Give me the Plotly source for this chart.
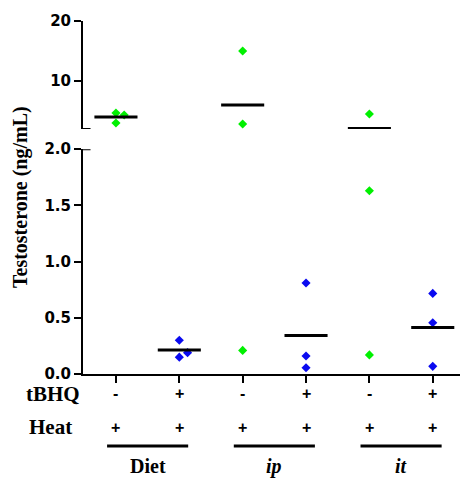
import plotly.graph_objects as go
import numpy as np

# ---- data ----
group_names = ["Diet", "ip", "it"]
tbhq_labels = ["-", "+", "-", "+", "-", "+"]
heat_labels = ["+", "+", "+", "+", "+", "+"]

diet_minus = [4.67, 4.33, 3.0]
diet_plus = [0.30, 0.19, 0.15]
ip_minus = [15.0, 2.83, 0.21]
ip_plus = [0.81, 0.16, 0.056]
it_minus = [4.5, 1.63, 0.17]
it_plus = [0.717, 0.456, 0.068]

series = [diet_minus, diet_plus, ip_minus, ip_plus, it_minus, it_plus]
jitter = [[0, 0.13, 0], [0, 0.13, 0], [0, 0, 0], [0, 0, 0], [0, 0, 0], [0, 0, 0]]
colors = ["#00F000", "#0A0AF0"] * 3

BREAK = 2.0
SERIF = "Liberation Serif"

fig = go.Figure()

for i, vals in enumerate(series):
    xs = [i + j for j in jitter[i]]
    lo_x = [x for x, v in zip(xs, vals) if v <= BREAK]
    lo_y = [v for v in vals if v <= BREAK]
    hi_x = [x for x, v in zip(xs, vals) if v > BREAK]
    hi_y = [v for v in vals if v > BREAK]
    mk = dict(symbol="diamond", size=7, color=colors[i], line=dict(width=0))
    if lo_y:
        fig.add_trace(go.Scatter(x=lo_x, y=lo_y, mode="markers", marker=mk,
                                 xaxis="x", yaxis="y", showlegend=False, cliponaxis=False))
    if hi_y:
        fig.add_trace(go.Scatter(x=hi_x, y=hi_y, mode="markers", marker=mk,
                                 xaxis="x", yaxis="y2", showlegend=False, cliponaxis=False))
    m = float(np.mean(vals))
    fig.add_trace(go.Scatter(x=[i - 0.34, i + 0.34], y=[m, m], mode="lines",
                             line=dict(color="black", width=3),
                             xaxis="x", yaxis="y2" if m > BREAK else "y",
                             showlegend=False, cliponaxis=False))

tickfont = dict(family="DejaVu Sans", size=15, color="black", weight="bold")
axcommon = dict(showline=True, linewidth=2, linecolor="black", ticks="outside",
                ticklen=7, tickwidth=2, tickcolor="black", showgrid=False,
                zeroline=False, tickfont=tickfont)

fig.update_layout(
    width=461, height=478,
    margin=dict(l=83, r=1, t=21, b=104),
    plot_bgcolor="white", paper_bgcolor="white",
    xaxis=dict(range=[-0.52, 5.43], tickvals=list(range(6)), showticklabels=False,
               anchor="y", **axcommon),
    yaxis=dict(domain=[0, 0.637], range=[0, 2], tickvals=[0, 0.5, 1, 1.5, 2],
               ticktext=["0.0", "0.5", "1.0", "1.5", "2.0"], anchor="x", **axcommon),
    yaxis2=dict(domain=[0.694, 1], range=[2, 20], tickvals=[10, 20],
                ticktext=["10", "20"], anchor="x", **axcommon),
)

# axis break caps
for yr in ["y", "y2"]:
    fig.add_shape(type="line", xref="paper", yref=yr, x0=-0.005, x1=0.02, y0=BREAK, y1=BREAK,
                  line=dict(color="black", width=2))

signfont = dict(family="Liberation Sans", size=16, color="black")
serif = dict(family=SERIF, size=21, color="black")

def ypx(p):
    return (374 - p) / 353.0

for i in range(6):
    fig.add_annotation(x=i, y=ypx(393), xref="x", yref="paper", text="<b>%s</b>" % tbhq_labels[i],
                       showarrow=False, font=signfont, xanchor="center", yanchor="middle")
    fig.add_annotation(x=i, y=ypx(427), xref="x", yref="paper", text="<b>%s</b>" % heat_labels[i],
                       showarrow=False, font=signfont, xanchor="center", yanchor="middle")

fig.add_annotation(x=(53 - 83) / 377.0, y=ypx(394), xref="paper", yref="paper", text="<b>tBHQ</b>",
                   showarrow=False, font=serif, xanchor="center", yanchor="middle")
fig.add_annotation(x=(50 - 83) / 377.0, y=ypx(427), xref="paper", yref="paper", text="<b>Heat</b>",
                   showarrow=False, font=serif, xanchor="center", yanchor="middle")

for g, name in enumerate(group_names):
    a, b = 2 * g, 2 * g + 1
    fig.add_shape(type="line", xref="x", yref="paper", x0=a - 0.14, x1=b + 0.14,
                  y0=ypx(446), y1=ypx(446), line=dict(color="black", width=3))
    txt = "<b>%s</b>" % name if g == 0 else "<b><i>%s</i></b>" % name
    fig.add_annotation(x=(a + b) / 2, y=ypx(466), xref="x", yref="paper", text=txt,
                       showarrow=False, font=dict(family=SERIF, size=20, color="black"),
                       xanchor="center", yanchor="middle")

fig.add_annotation(x=(20 - 83) / 377.0, y=ypx(197), xref="paper", yref="paper",
                   text="<b>Testosterone (ng/mL)</b>", textangle=-90, showarrow=False,
                   font=dict(family=SERIF, size=20, color="black"),
                   xanchor="center", yanchor="middle")

fig.write_html("out.html", config={"displayModeBar": False},
               post_script="document.body.style.margin='0';document.body.style.overflow='hidden';")
